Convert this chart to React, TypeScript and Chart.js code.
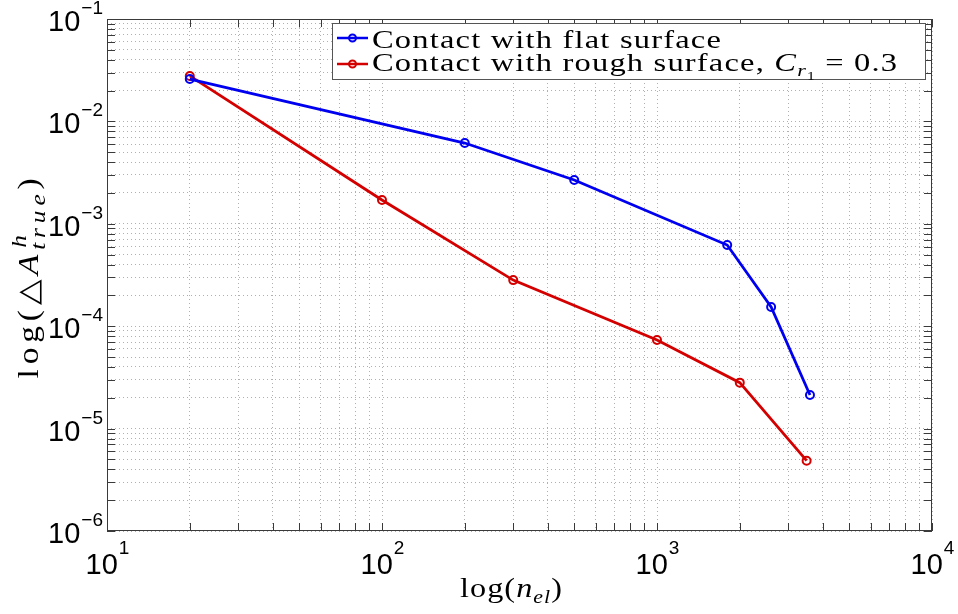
import { useEffect, useRef } from 'react';
import { Chart, registerables } from 'chart.js';

Chart.register(...registerables);

// ---- data ----
const nElFlat = [20, 200, 500, 1800, 2600, 3600];
const errFlat = [0.0259, 0.00615, 0.00268, 0.00062, 0.000154, 0.0000213];
const nElRough = [20, 100, 300, 1000, 2000, 3500];
const errRough = [0.0278, 0.00171, 0.000282, 0.0000733, 0.0000281, 0.00000486];
const xDecades = [1, 2, 3, 4];
const yDecades = [-6, -5, -4, -3, -2, -1];
const legendFlat = 'Contact with flat surface';
const legendRough = 'Contact with rough surface, ';
const roughParam = '0.3';

const BLUE = '#0000f0';
const RED = '#d40000';
const SERIF = '"Liberation Serif", "Times New Roman", serif';
const SANS = '"Liberation Sans", Arial, Helvetica, sans-serif';

function logTicks(decades: number[]) {
  const out: number[] = [];
  for (let i = 0; i < decades.length - 1; i++) {
    for (let m = 1; m <= 9; m++) out.push(m * Math.pow(10, decades[i]));
  }
  out.push(Math.pow(10, decades[decades.length - 1]));
  return out;
}

type Part = { t: string; size: number; italic?: boolean; dy?: number; dx?: number; stack?: Part[] };

function setFont(ctx: CanvasRenderingContext2D, p: Part) {
  ctx.font = `${p.italic ? 'italic ' : ''}${p.size}px ${SERIF}`;
}
function partW(ctx: CanvasRenderingContext2D, p: Part, ls: number, sx: number): number {
  if (p.stack) return Math.max(...p.stack.map((s) => partW(ctx, s, ls, sx) + (s.dx || 0)));
  setFont(ctx, p);
  (ctx as any).letterSpacing = '0px';
  return ctx.measureText(p.t).width * sx + ls * [...p.t].length;
}
function partsW(ctx: CanvasRenderingContext2D, parts: Part[], ls: number, sx: number) {
  return parts.reduce((s, p) => s + partW(ctx, p, ls, sx), 0);
}
function charCount(parts: Part[]): number {
  return parts.reduce((s, p) => s + (p.stack ? Math.max(...p.stack.map((q) => [...q.t].length)) : [...p.t].length), 0);
}
function drawParts(ctx: CanvasRenderingContext2D, parts: Part[], x: number, y: number, ls: number, sx: number) {
  let cx = x;
  for (const p of parts) {
    const w = partW(ctx, p, ls, sx);
    const items = p.stack ? p.stack : [p];
    for (const q of items) {
      setFont(ctx, q);
      (ctx as any).letterSpacing = `${ls / sx}px`;
      ctx.save();
      ctx.translate(cx + (q.dx || 0), y + (q.dy || 0));
      ctx.scale(sx, 1);
      ctx.fillText(q.t, 0, 0);
      ctx.restore();
    }
    cx += w;
  }
  (ctx as any).letterSpacing = '0px';
  return cx;
}

const decorPlugin = {
  id: 'decor',
  afterDatasetsDraw(chart: any) {
    const { ctx, chartArea: a, scales } = chart;
    const xs = scales.x;
    const ys = scales.y;
    ctx.save();
    // frame
    ctx.strokeStyle = '#3a3a3a';
    ctx.lineWidth = 1;
    ctx.strokeRect(Math.round(a.left) + 0.5, Math.round(a.top) + 0.5, Math.round(a.right - a.left) - 1, Math.round(a.bottom - a.top) - 1);
    // inward ticks on all sides
    const tl = 8;
    ctx.beginPath();
    for (const t of xs.ticks) {
      const px = Math.round(xs.getPixelForValue(t.value)) + 0.5;
      ctx.moveTo(px, a.bottom);
      ctx.lineTo(px, a.bottom - tl);
      ctx.moveTo(px, a.top);
      ctx.lineTo(px, a.top + tl);
    }
    for (const t of ys.ticks) {
      const py = Math.round(ys.getPixelForValue(t.value)) + 0.5;
      ctx.moveTo(a.left, py);
      ctx.lineTo(a.left + tl, py);
      ctx.moveTo(a.right, py);
      ctx.lineTo(a.right - tl, py);
    }
    ctx.stroke();

    // legend box
    const bx = 332, by = 23, bw = 593, bh = 56;
    ctx.fillStyle = '#ffffff';
    ctx.fillRect(bx, by, bw, bh);
    ctx.strokeStyle = '#555555';
    ctx.strokeRect(bx + 0.5, by + 0.5, bw, bh);
    const rows = [
      { color: BLUE, ly: 38, base: 48 },
      { color: RED, ly: 64, base: 71 },
    ];
    rows.forEach((r) => {
      ctx.strokeStyle = r.color;
      ctx.lineWidth = 2.5;
      ctx.beginPath();
      ctx.moveTo(337, r.ly);
      ctx.lineTo(368, r.ly);
      ctx.stroke();
      ctx.lineWidth = 2;
      ctx.beginPath();
      ctx.arc(352.5, r.ly, 3.5, 0, Math.PI * 2);
      ctx.stroke();
    });
    ctx.fillStyle = '#000';
    ctx.textAlign = 'left';
    ctx.textBaseline = 'alphabetic';
    const fs = 25;
    const sx = 1.3;
    const p1: Part[] = [{ t: legendFlat, size: fs }];
    const ls = Math.max(0, (350 - partsW(ctx, p1, 0, sx)) / charCount(p1));
    drawParts(ctx, p1, 372, rows[0].base, ls, sx);
    const p2: Part[] = [
      { t: legendRough, size: fs },
      { t: 'C', size: fs, italic: true },
      { t: 'r', size: 17, italic: true, dy: 5 },
      { t: '1', size: 12, dy: 9 },
      { t: ' = ' + roughParam, size: fs },
    ];
    drawParts(ctx, p2, 372, rows[1].base, ls, sx);
    ctx.restore();
  },
  afterDraw(chart: any) {
    const { ctx, chartArea: a, scales } = chart;
    const xs = scales.x;
    const ys = scales.y;
    ctx.save();
    ctx.fillStyle = '#000';
    ctx.textBaseline = 'alphabetic';
    ctx.textAlign = 'left';
    const bigF = `29px ${SANS}`;
    const supF = `19px ${SANS}`;
    // x tick labels
    for (const e of xDecades) {
      const px = xs.getPixelForValue(Math.pow(10, e));
      const ex = String(e);
      ctx.font = bigF;
      const w1 = ctx.measureText('10').width;
      ctx.font = supF;
      const w2 = ctx.measureText(ex).width;
      const left = px - (w1 + w2) / 2;
      ctx.font = bigF;
      ctx.fillText('10', left, a.bottom + 43);
      ctx.font = supF;
      ctx.fillText(ex, left + w1 + 1, a.bottom + 23);
    }
    // y tick labels
    for (const e of yDecades) {
      const py = ys.getPixelForValue(Math.pow(10, e));
      const ex = '\u2212' + String(Math.abs(e));
      ctx.font = supF;
      const w2 = ctx.measureText(ex).width;
      ctx.font = bigF;
      const w1 = ctx.measureText('10').width;
      const right = a.left - 4;
      ctx.font = supF;
      ctx.fillText(ex, right - w2, py - 5);
      ctx.font = bigF;
      ctx.fillText('10', right - w2 - w1 - 1, py + 12);
    }
    // x title
    const tf = 28;
    const tsx = 1.15;
    const xt: Part[] = [
      { t: 'log(', size: tf },
      { t: 'n', size: tf, italic: true },
      { t: 'el', size: 19, italic: true, dy: 6 },
      { t: ')', size: tf },
    ];
    const xls = Math.max(0, (103 - partsW(ctx, xt, 0, tsx)) / charCount(xt));
    const xw = partsW(ctx, xt, xls, tsx);
    const xc = (a.left + a.right) / 2 - 8;
    drawParts(ctx, xt, xc - xw / 2, a.bottom + 66, xls, tsx);
    // y title (rotated)
    const yf = 29;
    const yt: Part[] = [
      { t: 'log', size: yf },
      { t: '(', size: yf },
      { t: '\u25B3', size: yf },
      { t: 'A', size: yf, italic: true },
      { t: '', size: 22, stack: [
        { t: 'h', size: 22, italic: true, dy: -12, dx: 2 },
        { t: 'true', size: 22, italic: true, dy: 7 },
      ] },
      { t: ')', size: yf },
    ];
    const yls = Math.max(0, (205 - partsW(ctx, yt, 0, tsx)) / charCount(yt));
    const yw = partsW(ctx, yt, yls, tsx);
    ctx.translate(38, (a.top + a.bottom) / 2 + 1);
    ctx.rotate(-Math.PI / 2);
    drawParts(ctx, yt, -yw / 2, 0, yls, tsx);
    ctx.restore();
  },
};

export default function App() {
  const ref = useRef<HTMLCanvasElement | null>(null);
  useEffect(() => {
    if (!ref.current) return;
    const chart = new Chart(ref.current, {
      type: 'line',
      data: {
        datasets: [
          {
            label: legendFlat,
            data: nElFlat.map((x, i) => ({ x, y: errFlat[i] })),
            borderColor: BLUE,
            backgroundColor: 'rgba(0,0,0,0)',
            borderWidth: 2.8,
            pointRadius: 4,
            pointBorderWidth: 2,
            pointBackgroundColor: 'rgba(0,0,0,0)',
            pointBorderColor: BLUE,
            tension: 0,
          },
          {
            label: legendRough,
            data: nElRough.map((x, i) => ({ x, y: errRough[i] })),
            borderColor: RED,
            backgroundColor: 'rgba(0,0,0,0)',
            borderWidth: 2.8,
            pointRadius: 4,
            pointBorderWidth: 2,
            pointBackgroundColor: 'rgba(0,0,0,0)',
            pointBorderColor: RED,
            tension: 0,
          },
        ],
      },
      options: {
        responsive: false,
        animation: false,
        events: [],
        layout: { padding: { left: 107, right: 26, top: 19, bottom: 83 } },
        plugins: { legend: { display: false }, tooltip: { enabled: false } },
        scales: {
          x: {
            type: 'logarithmic',
            min: Math.pow(10, xDecades[0]),
            max: Math.pow(10, xDecades[xDecades.length - 1]),
            afterBuildTicks: (s: any) => {
              s.ticks = logTicks(xDecades).map((v) => ({ value: v }));
            },
            ticks: { display: false, autoSkip: false },
            grid: { color: '#b0b0b0', lineWidth: 1, drawTicks: false },
            border: { display: false, dash: [1, 3] },
          },
          y: {
            type: 'logarithmic',
            min: Math.pow(10, yDecades[0]),
            max: Math.pow(10, yDecades[yDecades.length - 1]),
            afterBuildTicks: (s: any) => {
              s.ticks = logTicks(yDecades).map((v) => ({ value: v }));
            },
            ticks: { display: false, autoSkip: false },
            grid: { color: '#b0b0b0', lineWidth: 1, drawTicks: false },
            border: { display: false, dash: [1, 3] },
          },
        },
      } as any,
      plugins: [decorPlugin],
    });
    return () => chart.destroy();
  }, []);
  return (
    <div style={{ position: 'fixed', left: 0, top: 0, width: 958, height: 614, background: '#fff' }}>
      <canvas ref={ref} width={958} height={614} style={{ display: 'block' }} />
    </div>
  );
}
